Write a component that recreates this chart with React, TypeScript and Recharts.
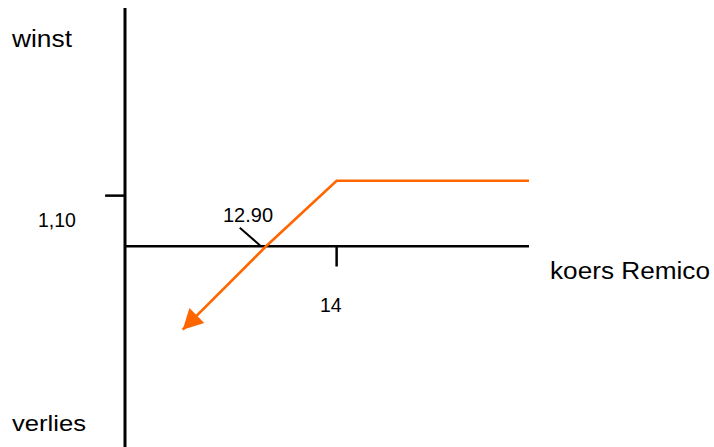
import React from 'react';
import {
    LineChart,
    Line,
    XAxis,
    YAxis,
    ReferenceLine,
    Customized
} from 'recharts';

// payoff of the position against the Remico share price
const koers = [11.6, 12.9, 14, 17];
const winst = [-1.4, 0, 1.1, 1.1];

const breakEven = 12.9;
const strike = 14;
const maxWinst = 1.1;

const xLabels = ['12.90', '14'];
const yLabels = ['1,10'];

const X_DOMAIN: [number, number] = [10.7, 17];
const Y_DOMAIN: [number, number] = [-3.37, 4];

const ORANGE = '#ff6600';
const FONT = '"Liberation Sans", Arial, sans-serif';

const data = koers.map((k, i) => ({ koers: k, winst: winst[i] }));

// arrowhead on the first point, pointing away from the next one
function ArrowDot(props: any) {
    const { cx, cy, index, points } = props;
    if (index !== 0 || cx == null || cy == null) return <g key={`dot-${index}`} />;
    let dx = -70;
    let dy = 65;
    if (points && points[1]) {
        dx = cx - points[1].x;
        dy = cy - points[1].y;
    }
    const len = Math.sqrt(dx * dx + dy * dy) || 1;
    const ux = dx / len;
    const uy = dy / len;
    const headLen = 20;
    const halfW = 10.5;
    const bx = cx - ux * headLen;
    const by = cy - uy * headLen;
    const pts = [
        [cx, cy],
        [bx - uy * halfW, by + ux * halfW],
        [bx + uy * halfW, by - ux * halfW]
    ].map(p => p.join(',')).join(' ');
    return <polygon key="arrow" points={pts} fill={ORANGE} stroke="none" />;
}

function Labels() {
    const txt = { fontFamily: FONT, fill: '#000' };
    return (
        <g>
            <text x={12} y={47} fontSize={23} textLength={60} lengthAdjust="spacingAndGlyphs" {...txt}>winst</text>
            <text x={12} y={431} fontSize={22} textLength={74} lengthAdjust="spacingAndGlyphs" {...txt}>verlies</text>
            <text x={550} y={279} fontSize={23} textLength={160} lengthAdjust="spacingAndGlyphs" {...txt}>koers Remico</text>
            <text x={38} y={227} fontSize={19.5} {...txt}>{yLabels[0]}</text>
            <text x={223} y={222} fontSize={20} {...txt}>{xLabels[0]}</text>
            <text x={320} y={312} fontSize={19.5} {...txt}>{xLabels[1]}</text>
        </g>
    );
}

export default function App() {
    return (
        <div style={{ position: 'absolute', left: 0, top: 0, width: 714, height: 447, background: '#fff' }}>
            <LineChart
                width={714}
                height={447}
                data={data}
                margin={{ top: 8, right: 185, bottom: 0, left: 125 }}
            >
                <XAxis type="number" dataKey="koers" domain={X_DOMAIN} allowDataOverflow hide />
                <YAxis type="number" domain={Y_DOMAIN} allowDataOverflow hide />

                {/* axes */}
                <ReferenceLine x={X_DOMAIN[0]} stroke="#000" strokeWidth={3} ifOverflow="visible" />
                <ReferenceLine y={0} stroke="#000" strokeWidth={2.5} ifOverflow="visible" />

                {/* tick marks */}
                <ReferenceLine
                    segment={[{ x: strike, y: 0 }, { x: strike, y: -0.34 }]}
                    stroke="#000"
                    strokeWidth={2.5}
                    ifOverflow="visible"
                />
                <ReferenceLine
                    segment={[{ x: 10.39, y: 0.85 }, { x: X_DOMAIN[0], y: 0.85 }]}
                    stroke="#000"
                    strokeWidth={2.5}
                    ifOverflow="visible"
                />

                {/* pointer to the break-even price */}
                <ReferenceLine
                    segment={[{ x: breakEven - 0.41, y: 0.31 }, { x: breakEven - 0.08, y: 0 }]}
                    stroke="#000"
                    strokeWidth={2}
                    ifOverflow="visible"
                />

                <Line
                    type="linear"
                    dataKey="winst"
                    stroke={ORANGE}
                    strokeWidth={2.6}
                    dot={ArrowDot}
                    activeDot={false}
                    isAnimationActive={false}
                />

                <Customized component={Labels} />
            </LineChart>
        </div>
    );
}
